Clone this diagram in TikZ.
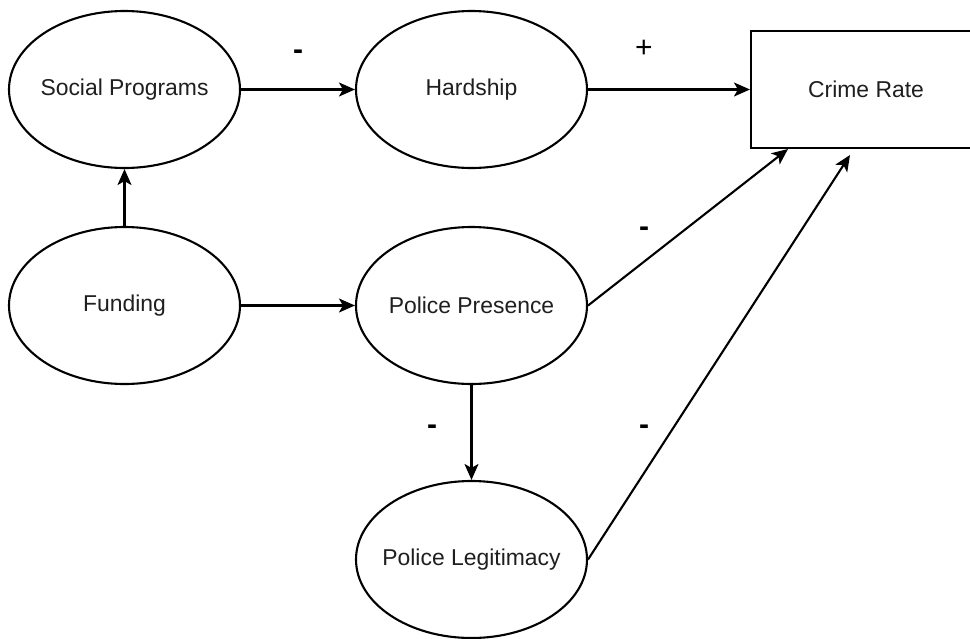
\documentclass[tikz,border=0pt]{standalone}
\usepackage{fontspec}
\setmainfont{Liberation Sans}
\usetikzlibrary{shapes.geometric,arrows.meta}
\begin{document}
\begin{tikzpicture}[x=1pt,y=-1pt,
  every node/.style={font=\fontsize{22.9}{27}\selectfont, text=black!88},
  factor/.style={ellipse, draw, line width=2.1pt, minimum width=231pt, minimum height=157pt, inner sep=0pt},
  outcome/.style={rectangle, draw, line width=2.1pt, minimum width=230pt, minimum height=117pt, inner sep=0pt},
  link/.style={line width=2.1pt, -{Stealth[length=16pt,width=14pt,inset=4pt]}},
  minus/.style={inner sep=0pt, font=\fontsize{30}{30}\selectfont\bfseries, text=black},
  plus/.style={inner sep=0pt, font=\fontsize{30}{30}\selectfont, text=black}]
  \clip (0,0) rectangle (970,638);
  \fill[white] (0,0) rectangle (970,638);

  % causal factors (ellipses keep a fixed size, the name is set as a centred label)
  \node[factor, label=center:{Social Programs}]   (social)   at (124.5,89.5)  {};
  \node[factor, label=center:{Hardship}]          (hardship) at (471.5,89.5)  {};
  \node[outcome]                                  (crime)    at (866,89.5)    {Crime Rate};
  \node[factor, label=center:{Funding}]           (funding)  at (124.5,305.5) {};
  \node[factor, label=center:{Police Presence}]   (presence) at (471.5,305.5) {};
  \node[factor, label=center:{Police Legitimacy}] (legit)    at (471.5,559.5) {};

  % arrow ends below the Crime Rate box
  \coordinate (crimeA) at (788,149);
  \coordinate (crimeB) at (850,155);

  % links
  \draw[link] (funding.north) -- (social.south);
  \draw[link] (social.east) -- (hardship.west);
  \draw[link] (hardship.east) -- (crime.west);
  \draw[link] (funding.east) -- (presence.west);
  \draw[link] (presence.south) -- (legit.north);
  \draw[link] (presence.east) -- (crimeA);
  \draw[link] (legit.east) -- (crimeB);

  % signs of the effects
  \node[minus] (s1) at (298,55)  {-};
  \node[plus]  (s2) at (644,49)  {+};
  \node[minus] (s3) at (644,232) {-};
  \node[minus] (s4) at (432,430) {-};
  \node[minus] (s5) at (644,430) {-};
\end{tikzpicture}
\end{document}
